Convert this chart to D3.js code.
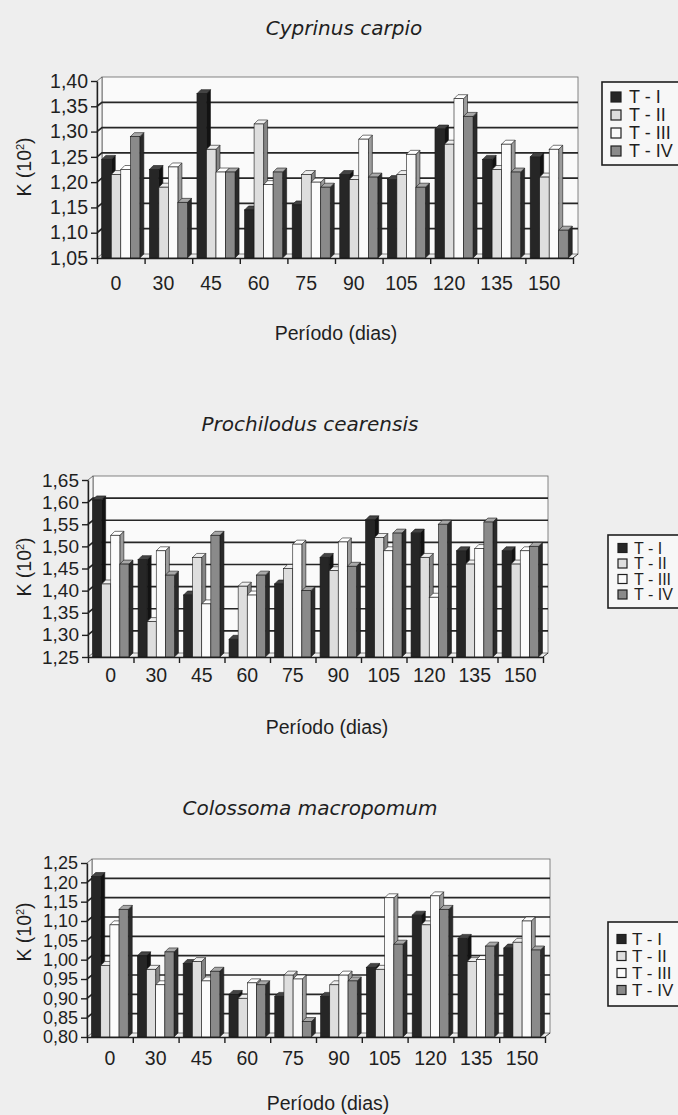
<!DOCTYPE html>
<html>
<head>
<meta charset="utf-8">
<script src="https://cdn.jsdelivr.net/npm/d3@7"></script>
<style>
body { margin: 0; background: #eeeeee; }
svg text { font-family: "Liberation Sans", Arial, sans-serif; fill: #1f1f1f; }
</style>
</head>
<body>
<div id="chart"></div>
<script>
var periods = ['0', '30', '45', '60', '75', '90', '105', '120', '135', '150']
var treatments = ['T - I', 'T - II', 'T - III', 'T - IV']

// Cyprinus carpio
var carpioT1 = [1.245, 1.225, 1.375, 1.145, 1.155, 1.215, 1.205, 1.305, 1.245, 1.25]
var carpioT2 = [1.215, 1.19, 1.265, 1.315, 1.215, 1.205, 1.215, 1.275, 1.225, 1.21]
var carpioT3 = [1.225, 1.23, 1.22, 1.195, 1.20, 1.285, 1.255, 1.365, 1.275, 1.265]
var carpioT4 = [1.29, 1.16, 1.22, 1.22, 1.19, 1.21, 1.19, 1.33, 1.22, 1.105]
var carpioTicks = [1.05, 1.10, 1.15, 1.20, 1.25, 1.30, 1.35, 1.40]

// Prochilodus cearensis
var proT1 = [1.605, 1.47, 1.39, 1.29, 1.415, 1.475, 1.56, 1.53, 1.49, 1.49]
var proT2 = [1.415, 1.33, 1.475, 1.41, 1.45, 1.445, 1.52, 1.475, 1.46, 1.46]
var proT3 = [1.525, 1.49, 1.37, 1.39, 1.505, 1.51, 1.49, 1.385, 1.495, 1.49]
var proT4 = [1.46, 1.435, 1.525, 1.435, 1.40, 1.455, 1.53, 1.55, 1.555, 1.50]
var proTicks = [1.25, 1.30, 1.35, 1.40, 1.45, 1.50, 1.55, 1.60, 1.65]

// Colossoma macropomum
var colT1 = [1.215, 1.01, 0.99, 0.91, 0.905, 0.905, 0.98, 1.115, 1.055, 1.03]
var colT2 = [0.985, 0.975, 0.995, 0.90, 0.96, 0.935, 0.975, 1.09, 0.995, 1.045]
var colT3 = [1.09, 0.935, 0.945, 0.94, 0.95, 0.96, 1.16, 1.165, 1.0, 1.10]
var colT4 = [1.13, 1.02, 0.97, 0.935, 0.84, 0.945, 1.04, 1.13, 1.035, 1.025]
var colTicks = [0.80, 0.85, 0.90, 0.95, 1.00, 1.05, 1.10, 1.15, 1.20, 1.25]

var width = 678,
    height = 1115

// depth of the 3d walls and of the bars
var wdx = 5, wdy = 4
var bdx = 4, bdy = 4

var front = ['#262626', '#dedede', '#fbfbfb', '#8a8a8a']
var topc = ['#444444', '#eeeeee', '#ffffff', '#a8a8a8']
var side = ['#121212', '#858585', '#9c9c9c', '#2a2a2a']

var svg = d3.select('#chart')
    .append('svg')
    .attr('width', width)
    .attr('height', height)

var fmt = d => d.toFixed(2).replace('.', ',')

function drawChart(cfg) {
    var g = svg.append('g')

    var x = d3.scaleBand()
        .domain(periods)
        .range([cfg.left, cfg.right])
    var xi = d3.scaleBand()
        .domain(treatments)
        .range([x.bandwidth() * 0.1, x.bandwidth() * 0.9])
    var y = d3.scaleLinear()
        .domain([cfg.ticks[0], cfg.ticks[cfg.ticks.length - 1]])
        .range([cfg.bottom, cfg.top])
    var base = y(cfg.ticks[0])

    // title
    g.append('text')
        .attr('x', cfg.titleX)
        .attr('y', cfg.titleY)
        .attr('text-anchor', 'middle')
        .style('font-family', '"DejaVu Sans", sans-serif')
        .style('font-style', 'italic')
        .style('font-size', '20px')
        .text(cfg.title)

    // back wall and left wall
    g.append('rect')
        .attr('x', cfg.left + wdx)
        .attr('y', cfg.top - wdy)
        .attr('width', cfg.right - cfg.left)
        .attr('height', cfg.bottom - cfg.top)
        .attr('fill', '#fafafa')
        .attr('stroke', '#666')
        .attr('stroke-width', 0.8)
    g.append('path')
        .attr('d', `M${cfg.left},${base}L${cfg.left},${cfg.top}L${cfg.left + wdx},${cfg.top - wdy}L${cfg.left + wdx},${base - wdy}Z`)
        .attr('fill', '#f3f3f3')
        .attr('stroke', '#555')
        .attr('stroke-width', 0.8)

    // gridlines
    g.selectAll('.grid')
        .data(cfg.ticks.slice(1, -1))
        .enter()
        .append('path')
        .attr('class', 'grid')
        .attr('d', d => `M${cfg.left},${y(d)}L${cfg.left + wdx},${y(d) - wdy}H${cfg.right + wdx}`)
        .attr('fill', 'none')
        .attr('stroke', '#262626')
        .attr('stroke-width', 1.7)

    // floor edge
    g.append('path')
        .attr('d', `M${cfg.right},${base}L${cfg.right + wdx},${base - wdy}`)
        .attr('stroke', '#333')
        .attr('stroke-width', 1)

    // bars
    var bars = []
    periods.forEach((p, i) => {
        cfg.series.forEach((s, j) => {
            bars.push({ p: p, t: treatments[j], v: s[i], j: j })
        })
    })
    var bw = xi.bandwidth()
    var bar = g.selectAll('.bar')
        .data(bars)
        .enter()
        .append('g')
        .attr('class', 'bar')
    bar.append('path')
        .attr('d', d => {
            var x0 = x(d.p) + xi(d.t) + bw, y0 = y(d.v)
            return `M${x0},${y0}L${x0 + bdx},${y0 - bdy}L${x0 + bdx},${base - bdy}L${x0},${base}Z`
        })
        .attr('fill', d => side[d.j])
        .attr('stroke', '#1a1a1a')
        .attr('stroke-width', 0.6)
    bar.append('path')
        .attr('d', d => {
            var x0 = x(d.p) + xi(d.t), y0 = y(d.v)
            return `M${x0},${y0}L${x0 + bdx},${y0 - bdy}L${x0 + bw + bdx},${y0 - bdy}L${x0 + bw},${y0}Z`
        })
        .attr('fill', d => topc[d.j])
        .attr('stroke', '#1a1a1a')
        .attr('stroke-width', 0.6)
    bar.append('rect')
        .attr('x', d => x(d.p) + xi(d.t))
        .attr('y', d => y(d.v))
        .attr('width', bw)
        .attr('height', d => base - y(d.v))
        .attr('fill', d => front[d.j])
        .attr('stroke', '#1a1a1a')
        .attr('stroke-width', 0.6)

    // y axis
    var yaxis = g.append('g')
        .attr('transform', `translate(${cfg.left},0)`)
        .call(d3.axisLeft(y)
            .tickValues(cfg.ticks)
            .tickSizeInner(6)
            .tickSizeOuter(0)
            .tickPadding(3)
            .tickFormat(fmt))
    yaxis.selectAll('text')
        .attr('font-family', null)
        .style('font-size', cfg.yFont + 'px')
    yaxis.selectAll('line, path').attr('stroke', '#1f1f1f').attr('stroke-width', 1.4)

    // x axis: category ticks between groups
    var xlin = d3.scaleLinear().domain([0, periods.length]).range([cfg.left, cfg.right])
    var xticks = g.append('g')
        .attr('transform', `translate(0,${base})`)
        .call(d3.axisBottom(xlin)
            .ticks(periods.length)
            .tickSize(6)
            .tickSizeOuter(0)
            .tickFormat(''))
    xticks.selectAll('line, path').attr('stroke', '#1f1f1f').attr('stroke-width', 1.4)

    var xaxis = g.append('g')
        .attr('transform', `translate(${cfg.labelDx},${base})`)
        .call(d3.axisBottom(x)
            .tickSize(0)
            .tickPadding(cfg.labelDy - 14))
    xaxis.select('.domain').remove()
    xaxis.selectAll('text')
        .attr('font-family', null)
        .style('font-size', '19.5px')

    // axis titles
    g.append('text')
        .attr('x', cfg.xTitleX)
        .attr('y', cfg.xTitleY)
        .attr('text-anchor', 'middle')
        .style('font-size', '19.5px')
        .text('Período (dias)')

    var yt = g.append('text')
        .attr('transform', `translate(${cfg.yTitleX},${cfg.yTitleY}) rotate(-90)`)
        .attr('text-anchor', 'middle')
        .style('font-size', '19.5px')
    yt.append('tspan').text('K (10')
    yt.append('tspan').attr('dy', -7).style('font-size', '11px').text('2')
    yt.append('tspan').attr('dy', 7).text(')')

    // legend
    var lg = cfg.legend
    g.append('rect')
        .attr('x', lg.x)
        .attr('y', lg.y)
        .attr('width', lg.w)
        .attr('height', lg.h)
        .attr('fill', '#f7f7f7')
        .attr('stroke', '#1f1f1f')
        .attr('stroke-width', 1.6)
    var item = g.selectAll('.legend')
        .data(treatments)
        .enter()
        .append('g')
        .attr('class', 'legend')
        .attr('transform', (d, i) => `translate(${lg.markerX},${lg.rowY + i * lg.rowDy})`)
    item.append('rect')
        .attr('x', 0)
        .attr('y', -lg.marker / 2)
        .attr('width', lg.marker)
        .attr('height', lg.marker)
        .attr('fill', (d, i) => front[i])
        .attr('stroke', '#1f1f1f')
        .attr('stroke-width', 1.2)
    item.append('text')
        .attr('x', lg.textDx)
        .attr('dy', '0.36em')
        .style('font-size', lg.font + 'px')
        .text(d => d)
}

drawChart({
    title: 'Cyprinus carpio', titleX: 344, titleY: 35,
    series: [carpioT1, carpioT2, carpioT3, carpioT4], ticks: carpioTicks, yFont: 19.5,
    left: 97, right: 573, top: 81, bottom: 258, labelDy: 32, labelDx: -5,
    xTitleX: 336, xTitleY: 340, yTitleX: 31, yTitleY: 167,
    legend: { x: 602, y: 82, w: 80, h: 83, markerX: 611, rowY: 97, rowDy: 18, marker: 10, textDx: 18, font: 18 }
})

drawChart({
    title: 'Prochilodus cearensis', titleX: 310, titleY: 431,
    series: [proT1, proT2, proT3, proT4], ticks: proTicks, yFont: 19,
    left: 88, right: 543, top: 480, bottom: 657, labelDy: 25, labelDx: 0,
    xTitleX: 327, xTitleY: 734, yTitleX: 31, yTitleY: 567,
    legend: { x: 608, y: 535, w: 74, h: 73, markerX: 618, rowY: 548, rowDy: 15.5, marker: 9, textDx: 16, font: 16 }
})

drawChart({
    title: 'Colossoma macropomum', titleX: 310, titleY: 815,
    series: [colT1, colT2, colT3, colT4], ticks: colTicks, yFont: 18,
    left: 87, right: 545, top: 863, bottom: 1037, labelDy: 28, labelDx: 0,
    xTitleX: 328, xTitleY: 1110, yTitleX: 31, yTitleY: 932,
    legend: { x: 608, y: 922, w: 74, h: 84, markerX: 617, rowY: 939, rowDy: 17, marker: 9, textDx: 15, font: 17 }
})
</script>
</body>
</html>
